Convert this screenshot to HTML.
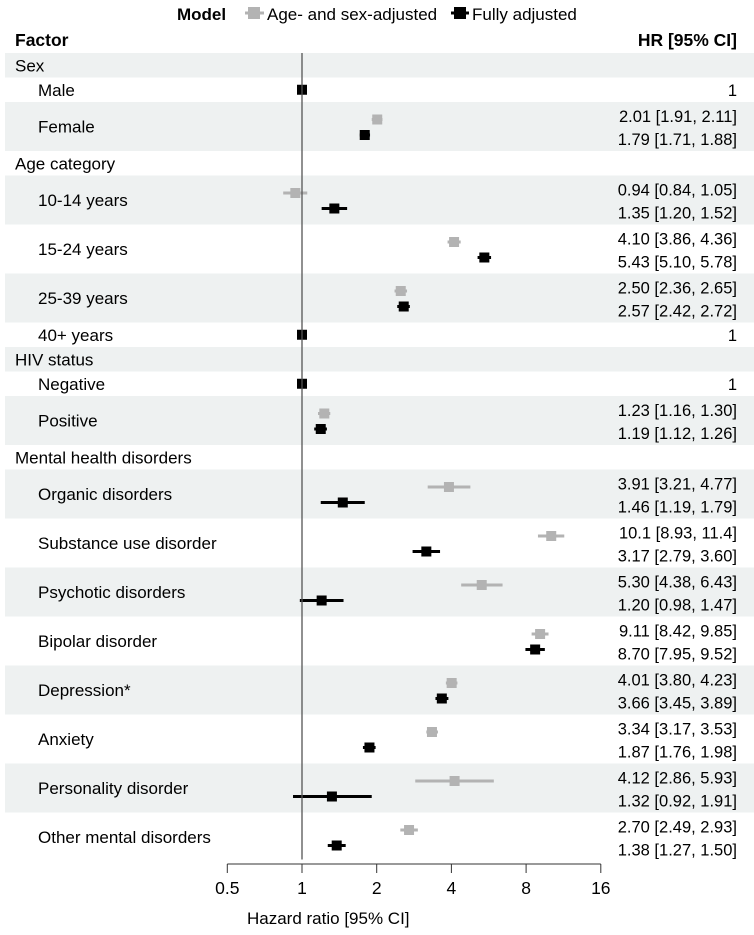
<!DOCTYPE html>
<html><head><meta charset="utf-8"><style>
html,body{margin:0;padding:0;background:#fff}
svg{display:block;font-family:"Liberation Sans",Arial,sans-serif}
</style></head><body>
<svg id="chart" width="754" height="935" viewBox="0 0 754 935" xmlns="http://www.w3.org/2000/svg">
<g id="legend">
<text x="177" y="20" font-size="17" font-weight="bold">Model</text>
<g><line x1="245" y1="13" x2="264" y2="13" stroke="#b3b3b3" stroke-width="3"/><rect x="248" y="7" width="12" height="12" fill="#b3b3b3"/><text x="267" y="20" font-size="17">Age- and sex-adjusted</text></g>
<g><line x1="451" y1="13" x2="469" y2="13" stroke="#000" stroke-width="3"/><rect x="454" y="7" width="12" height="12" fill="#000"/><text x="472" y="20" font-size="17">Fully adjusted</text></g>
</g>
<text x="15" y="46" font-size="17.5" font-weight="bold">Factor</text>
<text x="737" y="46" font-size="17.5" font-weight="bold" text-anchor="end">HR [95% CI]</text>
<g id="bands"></g>
<g id="labels"></g>
<g id="marks"></g>
<g id="axis"></g>
<text x="247" y="924" font-size="17">Hazard ratio [95% CI]</text>
</svg>
<script>
const rowLabels = ["Sex","Male","Female","Age category","10-14 years","15-24 years","25-39 years","40+ years","HIV status","Negative","Positive","Mental health disorders","Organic disorders","Substance use disorder","Psychotic disorders","Bipolar disorder","Depression*","Anxiety","Personality disorder","Other mental disorders"];
const rowKinds = ["h","ref","pair","h","pair","pair","pair","ref","h","ref","pair","h","pair","pair","pair","pair","pair","pair","pair","pair"];
const hrA = [null,1,2.01,null,0.94,4.10,2.50,1,null,1,1.23,null,3.91,10.1,5.30,9.11,4.01,3.34,4.12,2.70];
const loA = [null,1,1.91,null,0.84,3.86,2.36,1,null,1,1.16,null,3.21,8.93,4.38,8.42,3.80,3.17,2.86,2.49];
const hiA = [null,1,2.11,null,1.05,4.36,2.65,1,null,1,1.30,null,4.77,11.4,6.43,9.85,4.23,3.53,5.93,2.93];
const hrF = [null,1,1.79,null,1.35,5.43,2.57,1,null,1,1.19,null,1.46,3.17,1.20,8.70,3.66,1.87,1.32,1.38];
const loF = [null,1,1.71,null,1.20,5.10,2.42,1,null,1,1.12,null,1.19,2.79,0.98,7.95,3.45,1.76,0.92,1.27];
const hiF = [null,1,1.88,null,1.52,5.78,2.72,1,null,1,1.26,null,1.79,3.60,1.47,9.52,3.89,1.98,1.91,1.50];
const labA = [null,"1","2.01 [1.91, 2.11]",null,"0.94 [0.84, 1.05]","4.10 [3.86, 4.36]","2.50 [2.36, 2.65]","1",null,"1","1.23 [1.16, 1.30]",null,"3.91 [3.21, 4.77]","10.1 [8.93, 11.4]","5.30 [4.38, 6.43]","9.11 [8.42, 9.85]","4.01 [3.80, 4.23]","3.34 [3.17, 3.53]","4.12 [2.86, 5.93]","2.70 [2.49, 2.93]"];
const labF = [null,null,"1.79 [1.71, 1.88]",null,"1.35 [1.20, 1.52]","5.43 [5.10, 5.78]","2.57 [2.42, 2.72]",null,null,null,"1.19 [1.12, 1.26]",null,"1.46 [1.19, 1.79]","3.17 [2.79, 3.60]","1.20 [0.98, 1.47]","8.70 [7.95, 9.52]","3.66 [3.45, 3.89]","1.87 [1.76, 1.98]","1.32 [0.92, 1.91]","1.38 [1.27, 1.50]"];
const ticks = [0.5,1,2,4,8,16];

const NS="http://www.w3.org/2000/svg";
const X0=302, PER=74.7, TOP=53, U=24.5;
const x = v => X0 + Math.log2(v)*PER;
function mk(tag, attrs, parent){const e=document.createElementNS(NS,tag);for(const k in attrs)e.setAttribute(k,attrs[k]);parent.appendChild(e);return e;}
const bands=document.getElementById('bands'), labels=document.getElementById('labels'), marks=document.getElementById('marks'), axis=document.getElementById('axis');
let y=TOP;
const slug=s=>s.toLowerCase().replace(/[^a-z0-9]+/g,'-').replace(/-$/,'');
rowLabels.forEach((lab,i)=>{
  const kind=rowKinds[i]; const h=(kind==="pair"?2:1)*U;
  if(i%2===0){const b=mk('rect',{x:5,y:y,width:749,height:h,fill:'#eef1f1'},bands);
    
    }
  const t=mk('text',{x:kind==="h"?15:38,y:y+h/2+6,'font-size':17},labels);
  t.textContent=lab;
  
  
  const series=[];
  if(kind==="pair"){series.push([y+17.5,y+14,hrA[i],loA[i],hiA[i],'#b3b3b3',labA[i],'age-sex']);series.push([y+33,y+37,hrF[i],loF[i],hiF[i],'#000',labF[i],'fully']);}
  else if(kind==="ref"){series.push([y+h/2,y+h/2,hrF[i],loF[i],hiF[i],'#000',labA[i],'ref']);}
  series.forEach(s=>{
    const [cy,ty,hr,lo,hi,col,txt,nm]=s;
    const g=mk('g',{},marks);
    
    
    if(hi>lo) mk('line',{x1:x(lo),x2:x(hi),y1:cy,y2:cy,stroke:col,'stroke-width':3},g);
    mk('rect',{x:x(hr)-5,y:cy-5,width:10,height:10,fill:col},g);
    const vt=mk('text',{x:737,y:ty+6,'font-size':16.5,'text-anchor':'end'},labels);
    vt.textContent=txt;
    
    
  });
  y+=h;
});
const ref=mk('line',{x1:X0,x2:X0,y1:TOP,y2:y-2,stroke:'#555','stroke-width':1.3},marks);


const AY=864;
mk('line',{x1:x(ticks[0]),x2:x(ticks[ticks.length-1]),y1:AY,y2:AY,stroke:'#333','stroke-width':1},axis);
ticks.forEach(t=>{
  mk('line',{x1:x(t),x2:x(t),y1:AY,y2:AY+9,stroke:'#333','stroke-width':1},axis);
  const tl=mk('text',{x:x(t),y:AY+30,'font-size':17.5,'text-anchor':'middle'},axis);
  tl.textContent=String(t);
  
  
});
</script>
</body></html>
